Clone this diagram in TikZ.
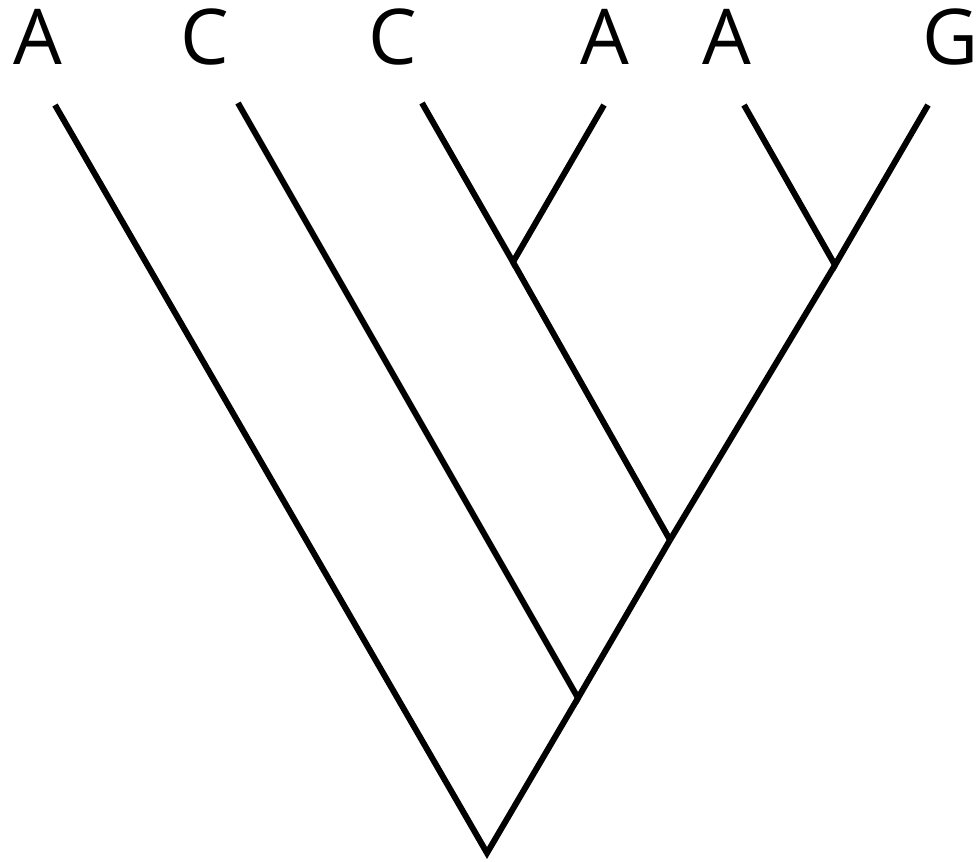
\documentclass[tikz,border=0pt]{standalone}
\usepackage{fontspec}
\setmainfont{Open Sans}
\begin{document}
\begin{tikzpicture}[x=0.5pt, y=-0.5pt,
		branch/.style={line width=3pt, line join=miter},
		leaf/.style={anchor=base, inner sep=0pt, font=\fontsize{38.5}{40}\selectfont}]
		% Rahmen festlegen
		\useasboundingbox (0,0) rectangle (977,861);
		% Blaetter
		\coordinate (l1) at (55,105);
		\coordinate (l2) at (238,103);
		\coordinate (l3) at (422,103);
		\coordinate (l4) at (604,105);
		\coordinate (l5) at (744,105);
		\coordinate (l6) at (928,105);
		% innere Knoten
		\coordinate (n34) at (513,262);
		\coordinate (n56) at (835,265);
		\coordinate (n36) at (670,540);
		\coordinate (n26) at (578,698);
		\coordinate (root) at (487,853);
		% Beschriftung
		\node[leaf] (t1) at (38,65) {A};
		\node[leaf] (t2) at (205,65) {C};
		\node[leaf] (t3) at (393,65) {C};
		\node[leaf] (t4) at (605,65) {A};
		\node[leaf] (t5) at (727,65) {A};
		\node[leaf] (t6) at (951,65) {G};
		% Aeste zeichnen
		\draw[branch] (l3) -- (n34) -- (l4);
		\draw[branch] (l5) -- (n56) -- (l6);
		\draw[branch] (n34) -- (n36);
		\draw[branch] (n56) -- (n36);
		\draw[branch] (l2) -- (n26) -- (n36);
		\draw[branch] (l1) -- (root) -- (n26);
	\end{tikzpicture}
\end{document}
